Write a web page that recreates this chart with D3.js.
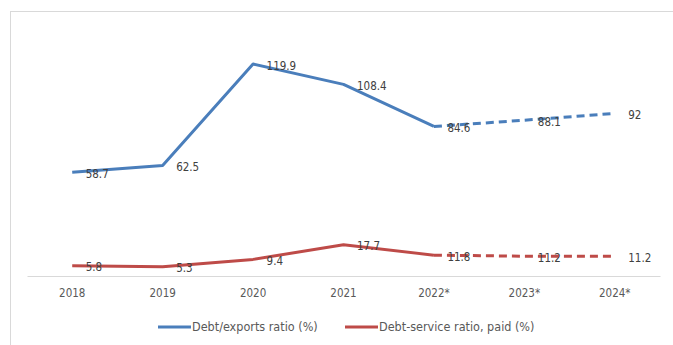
<!DOCTYPE html>
<html>
<head>
<meta charset="utf-8">
<script src="https://cdn.jsdelivr.net/npm/d3@7/dist/d3.min.js"></script>
<style>
  html, body { margin: 0; padding: 0; background: #fff; }
  svg { display: block; }
  text { font-family: "DejaVu Sans Condensed", "Liberation Sans Narrow", sans-serif; }
</style>
</head>
<body>
<svg id="chart" width="673" height="345"></svg>
<script>
// Years on the category axis (starred years are projections)
const years = ["2018", "2019", "2020", "2021", "2022*", "2023*", "2024*"];
// Debt/exports ratio (%)
const debtExports = [58.7, 62.5, 119.9, 108.4, 84.6, 88.1, 92];
// Debt-service ratio, paid (%)
const debtService = [5.8, 5.3, 9.4, 17.7, 11.8, 11.2, 11.2];
// Index of the first projected year: lines are dashed from here on
const projectionStart = 4;

const seriesNames = ["Debt/exports ratio (%)", "Debt-service ratio, paid (%)"];
const seriesColors = ["#4a7ebb", "#be4b48"];

const svg = d3.select("#chart");

// Outer frame
svg.append("rect")
  .attr("x", 10.5).attr("y", 11.5)
  .attr("width", 700).attr("height", 400)
  .attr("fill", "none").attr("stroke", "#d9d9d9").attr("stroke-width", 1);

const x = d3.scaleBand().domain(years).range([27, 660]);
const y = d3.scaleLinear().domain([0, 140]).range([276, 28.5]);
const cx = d => x(d) + x.bandwidth() / 2;

// Category axis
const xAxis = d3.axisBottom(x).tickSize(0).tickPadding(13);
const gx = svg.append("g").attr("transform", "translate(0,276)").call(xAxis);
gx.select(".domain").attr("stroke", "#d9d9d9").attr("stroke-width", 1);
gx.selectAll("text")
  .attr("fill", "#595959")
  .style("font-size", "11.5px")
  .style("font-family", "'DejaVu Sans Condensed', sans-serif");

const line = d3.line().x(d => cx(d.year)).y(d => y(d.value));

[debtExports, debtService].forEach((vals, i) => {
  const pts = years.map((yr, j) => ({ year: yr, value: vals[j] }));
  const g = svg.append("g");
  g.append("path")
    .datum(pts.slice(0, projectionStart + 1))
    .attr("d", line)
    .attr("fill", "none")
    .attr("stroke", seriesColors[i])
    .attr("stroke-width", 3)
    .attr("stroke-linejoin", "round");
  g.append("path")
    .datum(pts.slice(projectionStart))
    .attr("d", line)
    .attr("fill", "none")
    .attr("stroke", seriesColors[i])
    .attr("stroke-width", 3)
    .attr("stroke-dasharray", "8,5");
  // Value labels to the right of each point
  g.selectAll("text")
    .data(pts)
    .join("text")
    .attr("x", d => cx(d.year) + 13.5)
    .attr("y", d => y(d.value) + 1.5)
    .attr("dy", "0.35em")
    .attr("fill", "#404040")
    .style("font-size", "11.5px")
    .text(d => d.value);
});

// Legend
const legend = svg.append("g").attr("transform", "translate(0,327)");
const legendX = [158, 345];
seriesNames.forEach((name, i) => {
  legend.append("line")
    .attr("x1", legendX[i]).attr("x2", legendX[i] + 33)
    .attr("y1", 0).attr("y2", 0)
    .attr("stroke", seriesColors[i]).attr("stroke-width", 3);
  legend.append("text")
    .attr("x", legendX[i] + 34)
    .attr("y", 0)
    .attr("dy", "0.35em")
    .attr("fill", "#595959")
    .style("font-size", "12.5px")
    .text(name);
});
</script>
</body>
</html>
